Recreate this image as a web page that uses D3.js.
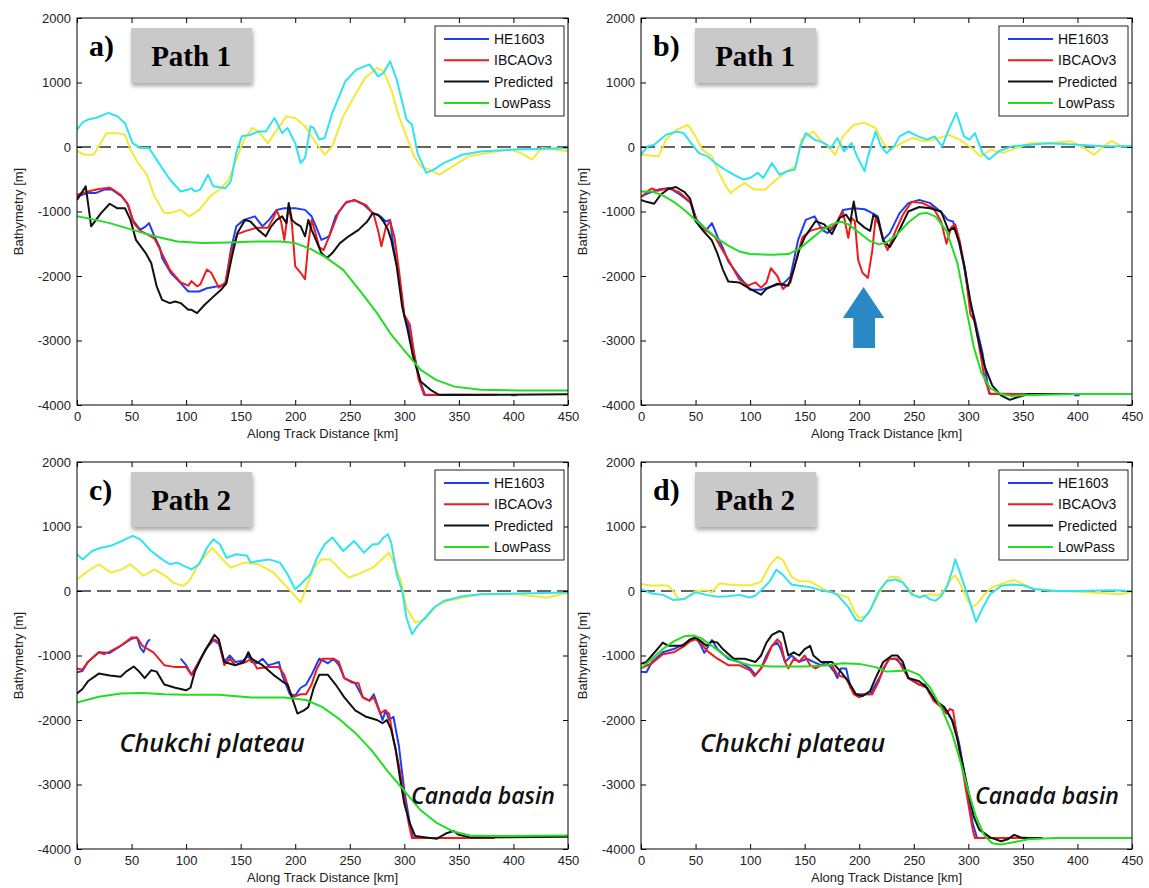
<!DOCTYPE html>
<html>
<head>
<meta charset="utf-8">
<script src="https://cdn.jsdelivr.net/npm/d3@7"></script>
<style>
  body { margin: 0; background: #fff; }
  svg { display: block; }
  .tick text { font-family: "Liberation Sans", Arial, sans-serif; font-size: 13px; fill: #222; }
</style>
</head>
<body>
<svg id="chart" width="1149" height="888"></svg>
<script>
// eje x y etiquetas
var xTicks = [0, 50, 100, 150, 200, 250, 300, 350, 400, 450];
var yTicks = [-4000, -3000, -2000, -1000, 0, 1000, 2000];
var legendNames = ["HE1603", "IBCAOv3", "Predicted", "LowPass"];

// ---- Panel a) Path 1 ----
var cyanA = [[0,270],[5,380],[10,425],[17,450],[29,530],[37,475],[44,370],[51,60],[58,-15],[66,-15],[75,-250],[85,-500],[95,-690],[102,-660],[105,-640],[108,-690],[113,-660],[120,-430],[125,-610],[136,-640],[141,-530],[146,-90],[151,165],[159,190],[166,240],[173,240],[181,450],[188,215],[193,295],[200,60],[205,-250],[209,-170],[214,320],[217,295],[222,115],[227,140],[234,530],[246,1020],[256,1200],[268,1280],[276,1095],[281,1150],[287,1330],[293,1045],[302,425],[307,345],[312,-90],[320,-400],[327,-350],[336,-250],[353,-120],[370,-70],[400,-40],[420,-30],[450,-15]];
var yellowA = [[0,-65],[7,-120],[15,-120],[20,10],[27,215],[37,215],[44,190],[49,-40],[56,-250],[64,-430],[71,-765],[80,-1025],[85,-1025],[95,-975],[103,-1075],[112,-975],[122,-765],[132,-640],[139,-505],[146,-195],[153,115],[161,295],[166,240],[175,60],[181,215],[192,475],[200,450],[209,320],[217,115],[227,-120],[234,10],[244,475],[254,785],[264,1070],[275,1225],[281,1175],[288,890],[295,475],[302,165],[309,-145],[315,-300],[326,-375],[332,-430],[342,-325],[359,-145],[376,-95],[397,-40],[407,-95],[417,-195],[426,-15],[438,-40],[450,-65]];
var blueA = [[0,-765],[10,-715],[17,-715],[25,-660],[32,-660],[41,-765],[46,-870],[51,-1130],[58,-1285],[63,-1230],[66,-1180],[71,-1385],[76,-1565],[78,-1720],[86,-1955],[95,-2110],[102,-2240],[112,-2240],[119,-2190],[129,-2160],[136,-2135],[141,-1595],[146,-1230],[153,-1130],[163,-1075],[170,-1230],[176,-1130],[183,-975],[190,-950],[200,-950],[209,-975],[215,-1075],[219,-1230],[224,-1440],[231,-1385],[237,-1075],[246,-870],[254,-820],[263,-895],[271,-1025],[278,-1075],[283,-1155],[287,-1130],[290,-1540],[295,-2005],[300,-2630],[303,-2730],[308,-3145],[314,-3610],[319,-3845],[345,-3840],[366,-3845],null,[398,-3850],[403,-3850]];
var redA = [[0,-740],[10,-690],[20,-650],[30,-630],[40,-740],[47,-900],[52,-1180],[58,-1300],[65,-1360],[71,-1420],[77,-1620],[85,-1900],[95,-2100],[102,-2150],[105,-2080],[110,-2160],[113,-2130],[119,-1900],[123,-1950],[130,-2180],[136,-2100],[141,-1650],[147,-1350],[155,-1300],[165,-1250],[175,-1250],[180,-1100],[183,-980],[187,-1150],[190,-1440],[193,-1050],[195,-1000],[197,-1200],[200,-1850],[205,-1950],[209,-2050],[212,-1500],[215,-1130],[218,-1300],[222,-1550],[226,-1600],[232,-1350],[240,-1000],[247,-850],[255,-830],[265,-900],[272,-1050],[276,-1300],[279,-1540],[283,-1250],[287,-1150],[291,-1400],[295,-1900],[300,-2600],[305,-2750],[309,-3200],[313,-3600],[318,-3840],[385,-3840]];
var blackA = [[0,-820],[8,-610],[13,-1230],[22,-1025],[30,-880],[37,-950],[44,-950],[49,-1130],[54,-1440],[63,-1645],[68,-1800],[73,-2160],[78,-2370],[85,-2420],[90,-2395],[95,-2420],[102,-2525],[105,-2525],[110,-2575],[117,-2445],[125,-2320],[132,-2215],[137,-2110],[142,-1700],[147,-1335],[154,-1130],[159,-1155],[166,-1285],[173,-1385],[178,-1230],[183,-1130],[188,-1075],[192,-1180],[194,-870],[197,-1130],[200,-1180],[205,-1230],[209,-1385],[212,-1130],[215,-1285],[219,-1440],[224,-1645],[229,-1720],[234,-1645],[241,-1490],[249,-1385],[258,-1285],[266,-1155],[271,-1025],[276,-1050],[281,-1155],[285,-1285],[288,-1440],[293,-1850],[298,-2475],[303,-2835],[308,-3250],[315,-3635],[324,-3765],[332,-3845],[450,-3835]];
var greenA = [[0,-1075],[17,-1130],[30,-1180],[51,-1285],[71,-1385],[92,-1465],[115,-1490],[139,-1480],[166,-1465],[186,-1465],[200,-1490],[214,-1580],[227,-1700],[244,-1905],[261,-2265],[275,-2575],[288,-2910],[302,-3195],[315,-3455],[329,-3610],[346,-3715],[370,-3765],[404,-3775],[450,-3775]];

// ---- Panel b) Path 1 ----
var cyanB = [[0,-120],[6,10],[12,35],[23,190],[33,240],[39,215],[46,60],[53,-95],[61,-145],[68,-250],[77,-350],[85,-430],[94,-505],[100,-480],[107,-400],[112,-480],[120,-250],[127,-430],[134,-375],[141,-350],[146,10],[151,215],[159,115],[168,60],[174,-15],[180,140],[186,-65],[193,60],[198,-145],[205,-375],[208,-145],[215,240],[220,10],[225,-95],[232,10],[237,165],[245,240],[254,165],[262,115],[269,165],[276,10],[282,270],[289,530],[296,165],[301,115],[306,215],[313,-95],[319,-195],[328,-65],[340,10],[357,35],[373,60],[400,35],[424,10],[450,10]];
var yellowB = [[0,-120],[16,-145],[23,115],[33,270],[43,345],[50,165],[56,-40],[65,-145],[70,-350],[77,-585],[82,-715],[88,-635],[95,-560],[104,-660],[114,-660],[124,-505],[134,-375],[142,-300],[147,115],[158,240],[164,115],[171,10],[178,-120],[185,165],[195,345],[205,375],[215,295],[222,60],[228,-40],[239,60],[249,140],[259,90],[269,115],[282,190],[292,115],[303,-15],[311,-145],[321,-40],[331,-95],[340,-40],[357,60],[373,60],[393,90],[404,10],[415,-120],[424,10],[431,90],[441,10],[450,10]];
var blueB = [[0,-765],[7,-715],[16,-660],[26,-635],[36,-740],[46,-870],[51,-1130],[60,-1285],[65,-1180],[70,-1385],[75,-1565],[80,-1775],[90,-2005],[100,-2215],[110,-2215],[120,-2160],[131,-2110],[137,-2005],[144,-1440],[151,-1130],[159,-1075],[166,-1285],[171,-1335],[178,-1230],[185,-975],[195,-950],[205,-965],[212,-1025],[217,-1075],[222,-1440],[228,-1335],[237,-1025],[245,-870],[255,-820],[265,-870],[276,-1025],[281,-1130],[286,-1155],[291,-1440],[296,-1850],[301,-2370],[306,-2680],[313,-3195],[319,-3820],[350,-3830],null,[397,-3850],[402,-3850]];
var redB = [[0,-780],[5,-700],[10,-640],[15,-680],[25,-640],[35,-700],[45,-850],[50,-1100],[55,-1250],[62,-1320],[68,-1400],[73,-1550],[80,-1750],[90,-2050],[98,-2150],[105,-2100],[110,-2180],[115,-2100],[119,-1880],[125,-2000],[130,-2200],[137,-2100],[143,-1700],[148,-1400],[155,-1300],[165,-1250],[175,-1250],[180,-1150],[185,-1000],[190,-1410],[193,-1100],[196,-1150],[199,-1750],[203,-1950],[208,-2030],[212,-1600],[215,-1100],[218,-1200],[222,-1450],[226,-1600],[232,-1350],[240,-1050],[248,-850],[258,-870],[268,-950],[275,-1150],[280,-1500],[284,-1250],[288,-1200],[292,-1450],[297,-1900],[302,-2600],[306,-2700],[310,-3100],[315,-3600],[320,-3830],[385,-3830]];
var blackB = [[0,-820],[5,-850],[12,-880],[18,-740],[25,-650],[32,-620],[40,-700],[45,-800],[50,-1150],[57,-1300],[65,-1450],[70,-1650],[75,-1900],[80,-2085],[90,-2100],[100,-2200],[110,-2290],[115,-2200],[125,-2120],[135,-2150],[140,-1900],[145,-1600],[150,-1400],[160,-1150],[168,-1200],[175,-1350],[182,-1100],[188,-1050],[192,-1150],[195,-845],[198,-1150],[205,-1250],[210,-1300],[213,-1050],[217,-1100],[222,-1450],[228,-1550],[235,-1350],[245,-1000],[255,-930],[265,-950],[275,-1000],[282,-1300],[287,-1250],[292,-1500],[297,-1900],[302,-2400],[308,-2900],[315,-3400],[322,-3700],[330,-3850],[338,-3920],[345,-3880],[355,-3830],[395,-3830]];
var greenB = [[0,-690],[10,-690],[20,-750],[30,-850],[40,-980],[50,-1130],[60,-1280],[70,-1420],[80,-1530],[90,-1620],[100,-1660],[120,-1670],[135,-1660],[145,-1580],[155,-1440],[165,-1300],[175,-1200],[183,-1160],[190,-1200],[200,-1330],[210,-1460],[218,-1510],[225,-1480],[235,-1350],[245,-1170],[255,-1040],[262,-1020],[270,-1080],[280,-1300],[290,-1800],[298,-2500],[305,-3100],[312,-3500],[320,-3740],[330,-3830],[340,-3860],[350,-3850],[400,-3830],[450,-3830]];

// ---- Panel c) Path 2 ----
var cyanC = [[0,570],[5,490],[14,620],[22,670],[31,700],[41,775],[51,855],[58,800],[68,620],[78,490],[85,415],[92,440],[98,390],[105,335],[112,415],[119,670],[125,800],[131,725],[137,515],[146,570],[156,545],[159,440],[166,465],[176,490],[186,440],[193,260],[200,25],[205,105],[214,260],[220,515],[227,725],[234,830],[244,620],[254,775],[263,595],[271,725],[276,725],[281,830],[285,880],[288,750],[293,260],[298,0],[302,-415],[307,-670],[312,-545],[319,-415],[327,-260],[336,-155],[353,-80],[370,-50],[404,-40],[450,-25]];
var yellowC = [[0,180],[10,310],[20,415],[31,285],[41,335],[49,415],[61,235],[71,335],[81,235],[88,130],[97,80],[103,155],[112,440],[124,670],[132,515],[141,360],[153,440],[166,415],[180,285],[190,105],[200,-80],[205,-180],[210,50],[217,360],[224,490],[232,490],[241,335],[249,205],[261,285],[271,360],[278,465],[286,595],[291,415],[297,155],[302,-260],[310,-490],[319,-440],[329,-235],[339,-155],[353,-105],[370,-50],[404,-50],[430,-105],[450,-25]];
var blueC = [[0,-1260],[5,-1240],[10,-1100],[20,-950],[30,-960],[40,-850],[50,-740],[55,-720],[58,-880],[61,-950],[63,-850],[65,-780],[67,-750],null,[95,-1050],[100,-1150],[105,-1300],[110,-1150],[118,-900],[125,-760],[130,-820],[135,-1100],[140,-1000],[145,-1100],[152,-1080],[157,-1000],[160,-1100],[165,-1120],[170,-1050],[175,-1150],[180,-1130],[185,-1100],[188,-1300],[195,-1600],[200,-1620],[205,-1500],[210,-1450],[215,-1300],[222,-1050],[230,-1120],[235,-1050],[240,-1150],[245,-1350],[255,-1430],[262,-1650],[268,-1700],[272,-1600],[275,-1750],[280,-2000],[283,-1850],[286,-2000],[290,-1950],[295,-2400],[300,-3100],[305,-3600],[308,-3830],[380,-3830]];
var redC = [[0,-1200],[5,-1220],[10,-1100],[20,-950],[25,-980],[30,-940],[40,-850],[50,-720],[55,-720],[60,-850],[65,-900],[70,-950],[80,-1150],[90,-1180],[100,-1180],[105,-1300],[110,-1150],[115,-1000],[120,-850],[125,-750],[130,-780],[135,-1150],[140,-1050],[145,-1150],[155,-1100],[160,-1050],[165,-1200],[175,-1180],[185,-1180],[190,-1300],[197,-1650],[205,-1600],[210,-1600],[215,-1450],[220,-1200],[225,-1050],[235,-1050],[240,-1100],[245,-1350],[252,-1420],[258,-1430],[262,-1650],[268,-1700],[272,-1650],[278,-1900],[282,-1850],[286,-1900],[290,-2300],[295,-2700],[300,-3200],[304,-3600],[307,-3830],[383,-3830]];
var blackC = [[0,-1590],[5,-1520],[10,-1400],[20,-1280],[30,-1310],[40,-1330],[45,-1250],[52,-1170],[57,-1250],[62,-1350],[68,-1230],[73,-1250],[80,-1450],[90,-1500],[100,-1540],[104,-1500],[108,-1250],[115,-1000],[120,-850],[126,-680],[130,-750],[135,-1100],[145,-1150],[153,-1100],[157,-950],[160,-1050],[170,-1150],[180,-1300],[188,-1400],[193,-1450],[198,-1700],[202,-1900],[208,-1850],[212,-1800],[217,-1500],[222,-1300],[230,-1300],[237,-1450],[245,-1650],[255,-1850],[265,-1950],[275,-2000],[280,-2050],[284,-2000],[288,-2150],[292,-2450],[296,-2900],[300,-3300],[305,-3600],[310,-3800],[320,-3820],[330,-3840],[338,-3760],[345,-3720],[350,-3780],[360,-3820],[450,-3810]];
var greenC = [[0,-1730],[20,-1640],[40,-1590],[60,-1580],[80,-1600],[100,-1610],[130,-1610],[160,-1650],[190,-1650],[210,-1690],[225,-1800],[240,-1980],[255,-2200],[270,-2470],[285,-2800],[300,-3100],[315,-3400],[330,-3600],[345,-3730],[360,-3790],[380,-3800],[450,-3790]];

// ---- Panel d) Path 2 ----
var cyanD = [[0,30],[10,-40],[20,-60],[30,-140],[40,-120],[50,-20],[60,-60],[70,-90],[80,-80],[90,-60],[100,-100],[105,-70],[110,10],[118,150],[124,330],[130,250],[138,100],[145,80],[155,60],[165,10],[175,-20],[180,-60],[190,-250],[197,-450],[202,-470],[210,-300],[218,0],[225,150],[233,180],[240,130],[248,-50],[255,-100],[260,-70],[265,-130],[270,-150],[275,-80],[280,50],[285,300],[288,490],[292,300],[297,50],[302,-200],[307,-480],[312,-300],[320,-50],[330,80],[340,100],[350,90],[360,30],[380,0],[400,0],[430,10],[450,0]];
var yellowD = [[0,110],[10,80],[20,90],[25,80],[30,-10],[35,-140],[40,-120],[50,0],[60,10],[65,-20],[72,120],[80,100],[90,90],[100,90],[110,140],[118,400],[125,530],[130,480],[138,220],[145,150],[155,150],[160,100],[170,10],[180,-50],[190,-100],[195,-300],[200,-420],[207,-380],[213,-200],[220,20],[228,220],[235,220],[242,100],[250,-60],[256,-90],[265,-50],[273,-70],[280,60],[285,200],[288,240],[293,100],[298,-100],[303,-250],[308,-200],[315,-50],[322,60],[332,120],[342,170],[350,110],[360,30],[380,0],[400,-10],[420,-30],[440,-50],[450,-10]];
var blueD = [[0,-1250],[5,-1260],[10,-1100],[20,-950],[30,-900],[40,-820],[50,-720],[55,-850],[58,-960],[62,-850],[65,-760],[70,-900],[80,-1050],[90,-1100],[100,-1200],[105,-1300],[110,-1200],[115,-1000],[120,-850],[125,-800],[128,-900],[132,-1100],[138,-1000],[145,-1100],[152,-1050],[158,-1100],[165,-1150],[170,-1100],[177,-1250],[180,-1350],[183,-1200],[188,-1200],[192,-1500],[197,-1600],[203,-1600],[210,-1600],[215,-1450],[220,-1300],[227,-1050],[233,-1050],[240,-1150],[245,-1350],[255,-1450],[260,-1450],[265,-1600],[270,-1700],[275,-1800],[280,-1850],[285,-2000],[288,-2100],[292,-2400],[296,-2800],[300,-3200],[304,-3600],[308,-3830],[360,-3830]];
var redD = [[0,-1200],[10,-1120],[20,-980],[30,-950],[40,-850],[45,-780],[50,-750],[55,-800],[60,-920],[70,-1050],[80,-1150],[90,-1150],[100,-1230],[104,-1320],[110,-1200],[115,-1050],[120,-850],[125,-750],[128,-800],[132,-1100],[135,-1200],[140,-1050],[145,-1100],[150,-1000],[155,-1150],[160,-1200],[165,-1150],[175,-1150],[180,-1300],[188,-1350],[195,-1600],[200,-1650],[205,-1600],[212,-1600],[218,-1400],[222,-1200],[228,-1050],[235,-1050],[240,-1200],[245,-1350],[255,-1450],[262,-1500],[268,-1700],[275,-1800],[280,-1900],[283,-1830],[286,-1850],[290,-2300],[295,-2800],[300,-3300],[304,-3700],[306,-3830],[365,-3830]];
var blackD = [[0,-1130],[5,-1100],[10,-1000],[15,-900],[20,-800],[25,-850],[30,-850],[38,-850],[45,-750],[50,-720],[55,-780],[60,-850],[65,-780],[70,-800],[75,-900],[85,-1050],[95,-1050],[105,-1100],[110,-1000],[115,-800],[120,-680],[127,-620],[130,-650],[135,-1000],[140,-950],[145,-1000],[150,-900],[155,-850],[158,-1000],[165,-1100],[175,-1100],[183,-1250],[190,-1400],[197,-1600],[203,-1630],[210,-1550],[215,-1350],[222,-1100],[230,-1000],[235,-1000],[240,-1100],[245,-1350],[255,-1400],[262,-1500],[270,-1700],[278,-1800],[285,-2000],[290,-2300],[295,-2700],[300,-3100],[305,-3500],[310,-3700],[320,-3820],[330,-3880],[336,-3850],[342,-3780],[348,-3820],[355,-3830],[368,-3830]];
var greenD = [[0,-1200],[10,-1050],[20,-900],[30,-780],[40,-700],[48,-690],[55,-730],[65,-850],[75,-980],[85,-1080],[100,-1150],[120,-1170],[150,-1170],[170,-1150],[185,-1120],[200,-1130],[215,-1180],[225,-1250],[235,-1240],[245,-1230],[255,-1300],[265,-1500],[275,-1800],[285,-2200],[292,-2600],[300,-3100],[307,-3500],[315,-3800],[322,-3910],[330,-3930],[340,-3900],[355,-3850],[380,-3830],[450,-3830]];

// flecha azul del panel b (km, m)
var arrowB = [[204,-2170],[223,-2650],[214.5,-2650],[214.5,-3115],[194.5,-3115],[194.5,-2650],[185,-2650]];

var colores = { cyan: "#2fe3f2", yellow: "#f5e836", blue: "#1f3df5", red: "#ee1c1c", black: "#111111", green: "#22dd22" };

// textos: [texto, km, m, tamaño]
var paneles = [
    { letra: "a)", ruta: "Path 1", left: 77, top: 18, series: [yellowA, cyanA, blueA, redA, blackA, greenA] },
    { letra: "b)", ruta: "Path 1", left: 641, top: 18, series: [yellowB, cyanB, blueB, redB, blackB, greenB], flecha: arrowB },
    { letra: "c)", ruta: "Path 2", left: 77, top: 462, series: [yellowC, cyanC, blueC, redC, blackC, greenC], textos: [["Chukchi plateau", 39, -2490, 25], ["Canada basin", 306, -3300, 23]] },
    { letra: "d)", ruta: "Path 2", left: 641, top: 462, series: [yellowD, cyanD, blueD, redD, blackD, greenD], textos: [["Chukchi plateau", 54, -2490, 25], ["Canada basin", 306, -3300, 23]] }
];
var ordenColores = ["yellow", "cyan", "blue", "red", "black", "green"];

var svg = d3.select("#chart");

var defs = svg.append("defs");
var sombra = defs.append("filter").attr("id", "sombra")
    .attr("x", "-10%").attr("y", "-10%").attr("width", "130%").attr("height", "140%");
sombra.append("feDropShadow").attr("dx", 1).attr("dy", 3).attr("stdDeviation", 2)
    .attr("flood-color", "#000").attr("flood-opacity", 0.35);

var width = 491, height = 387;

paneles.forEach(function (p) {
    var x = d3.scaleLinear().domain([0, 450]).range([0, width]);
    var y = d3.scaleLinear().domain([-4000, 2000]).range([height, 0]);

    var g = svg.append("g").attr("transform", "translate(" + p.left + "," + p.top + ")");

    g.append("clipPath").attr("id", "clip-" + p.letra[0])
        .append("rect").attr("width", width).attr("height", height);

    // línea de cero discontinua
    g.append("line")
        .attr("x1", x(0)).attr("x2", x(450))
        .attr("y1", y(0)).attr("y2", y(0))
        .attr("stroke", "#333").attr("stroke-width", 1.5)
        .attr("stroke-dasharray", "14,6");

    var linea = d3.line()
        .defined(function (d) { return d != null; })
        .x(function (d) { return x(d[0]); })
        .y(function (d) { return y(d[1]); });

    var curvas = g.append("g").attr("clip-path", "url(#clip-" + p.letra[0] + ")");
    p.series.forEach(function (serie, i) {
        curvas.append("path")
            .datum(serie)
            .attr("fill", "none")
            .attr("stroke", colores[ordenColores[i]])
            .attr("stroke-width", 2)
            .attr("stroke-linejoin", "round")
            .attr("d", linea);
    });

    if (p.flecha) {
        g.append("path")
            .attr("d", d3.line().x(function (d) { return x(d[0]); }).y(function (d) { return y(d[1]); })(p.flecha) + "Z")
            .attr("fill", "#2a89c5");
    }

    if (p.textos) {
        p.textos.forEach(function (t) {
            g.append("text")
                .attr("x", x(t[1])).attr("y", y(t[2]))
                .style("font-family", "'Open Sans', sans-serif")
                .style("font-style", "italic")
                .style("font-weight", 600)
                .style("font-size", t[3] + "px")
                .attr("fill", "#111")
                .text(t[0]);
        });
    }

    // ejes estilo matlab con marcas hacia dentro
    g.append("g")
        .attr("transform", "translate(0," + height + ")")
        .call(d3.axisBottom(x).tickValues(xTicks).tickSize(-5).tickPadding(7).tickFormat(function (d) { return String(d); }))
        .call(function (s) { s.select(".domain").remove(); });
    g.append("g")
        .call(d3.axisTop(x).tickValues(xTicks).tickSize(-5).tickFormat(""))
        .call(function (s) { s.select(".domain").remove(); });
    g.append("g")
        .call(d3.axisLeft(y).tickValues(yTicks).tickSize(-5).tickPadding(6).tickFormat(function (d) { return String(d); }))
        .call(function (s) { s.select(".domain").remove(); });
    g.append("g")
        .attr("transform", "translate(" + width + ",0)")
        .call(d3.axisRight(y).tickValues(yTicks).tickSize(-5).tickFormat(""))
        .call(function (s) { s.select(".domain").remove(); });
    g.append("rect")
        .attr("width", width).attr("height", height)
        .attr("fill", "none").attr("stroke", "#000").attr("stroke-width", 1);

    g.append("text")
        .attr("x", width / 2).attr("y", height + 33)
        .style("text-anchor", "middle")
        .style("font-family", "'Liberation Sans', Arial, sans-serif")
        .style("font-size", "13px").attr("fill", "#222")
        .text("Along Track Distance [km]");
    g.append("text")
        .attr("transform", "rotate(-90)")
        .attr("x", -height / 2).attr("y", -54)
        .style("text-anchor", "middle")
        .style("font-family", "'Liberation Sans', Arial, sans-serif")
        .style("font-size", "13px").attr("fill", "#222")
        .text("Bathymetry  [m]");

    // leyenda
    var ley = g.append("g").attr("transform", "translate(" + (width - 133) + ",8)");
    ley.append("rect").attr("width", 129).attr("height", 90)
        .attr("fill", "#fff").attr("stroke", "#222").attr("stroke-width", 1);
    legendNames.forEach(function (nombre, i) {
        var fy = 13 + i * 21.3;
        ley.append("line").attr("x1", 9).attr("x2", 54).attr("y1", fy).attr("y2", fy)
            .attr("stroke", colores[ordenColores[i + 2]]).attr("stroke-width", 2);
        ley.append("text").attr("x", 59).attr("y", fy + 5)
            .style("font-family", "'Liberation Sans', Arial, sans-serif")
            .style("font-size", "14px").attr("fill", "#111")
            .text(nombre);
    });

    // etiqueta de panel y caja de la ruta
    g.append("text").attr("x", 12).attr("y", 38)
        .style("font-family", "'Liberation Serif', 'Times New Roman', serif")
        .style("font-weight", "bold").style("font-size", "30px")
        .text(p.letra);
    g.append("rect").attr("x", 54).attr("y", 10).attr("width", 121).attr("height", 55)
        .attr("fill", "#c9c9c9").attr("filter", "url(#sombra)");
    g.append("text").attr("x", 114).attr("y", 48)
        .style("text-anchor", "middle")
        .style("font-family", "'Liberation Serif', 'Times New Roman', serif")
        .style("font-weight", "bold").style("font-size", "29px")
        .text(p.ruta);
});
</script>
</body>
</html>
